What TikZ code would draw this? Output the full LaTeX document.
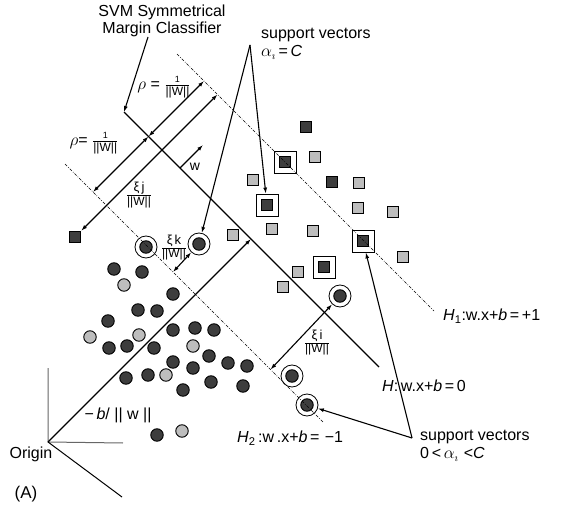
\documentclass[tikz,border=0pt]{standalone}
\usepackage{fontspec}
\setmainfont{Liberation Sans}
\usetikzlibrary{arrows.meta}
\definecolor{dkfill}{gray}{0.24}
\definecolor{ltfill}{gray}{0.74}
\definecolor{axisgray}{gray}{0.4}
\newcommand{\wfrac}[1]{$\frac{\hbox{#1}}{\hbox{\fontsize{12}{12}\selectfont ||W||}}$}
\begin{document}
\begin{tikzpicture}[x=1pt,y=-1pt,
  pt/.style={circle,draw=black,line width=0.9pt,minimum size=12.5pt,inner sep=0pt},
  dkc/.style={pt,fill=dkfill}, ltc/.style={pt,fill=ltfill},
  sq/.style={rectangle,draw=black,line width=0.9pt,minimum size=11.5pt,inner sep=0pt},
  dks/.style={sq,fill=dkfill}, lts/.style={sq,fill=ltfill},
  ringc/.style={circle,draw=black,line width=0.8pt,minimum size=22pt,inner sep=0pt},
  boxs/.style={rectangle,draw=black,line width=0.8pt,minimum size=22pt,inner sep=0pt},
  arr/.style={-{Latex[length=6pt,width=4pt]},line width=1.1pt},
  dbl/.style={{Latex[length=6pt,width=4pt]}-{Latex[length=6pt,width=4pt]},line width=1.1pt},
  hyp/.style={line width=1.2pt},
  hypd/.style={line width=0.6pt,dash pattern=on 3pt off 1.5pt on 0.7pt off 1.5pt},
  lbl/.style={font=\fontsize{16}{18}\selectfont, inner sep=0pt},
]
\useasboundingbox (0,0) rectangle (563,511);

% coordinates
\coordinate (Ha) at (124,112); \coordinate (Hb) at (379,367);
\coordinate (H1a) at (177,54); \coordinate (H1b) at (434,311);
\coordinate (H2a) at (65,164); \coordinate (H2b) at (324,423);
\coordinate (pA2) at (93,192); \coordinate (pAH) at (148.5,136.5); \coordinate (pA1) at (204,81);
\coordinate (pB1) at (217.5,94.5);
\coordinate (wA) at (180,168); \coordinate (wB) at (203,145);
\coordinate (org) at (48,442); \coordinate (axV) at (48,368);
\coordinate (axH) at (123,443); \coordinate (axD) at (122,497);
\coordinate (bH) at (251,239);
\coordinate (pK) at (173,272); \coordinate (pI) at (270.5,369.5);
\coordinate (apex1) at (250,45); \coordinate (apex2) at (412,438);
\coordinate (svmA) at (148,37);

% data points: circles
\foreach \x/\y [count=\i] in {114/269,142/272,173/294,138/310,157/311,108/321,173/330,195/328,214/330,109/348,127/346,154/348,209/356,228/363,247/366,173/362,193/368,148/375,126/378,183/390,211/382,243/386,157/435}
  \node[dkc] (dc\i) at (\x,\y) {};
\foreach \x/\y [count=\i] in {124/285,90/337,139/335,193/346,166/375,182/431}
  \node[ltc] (lc\i) at (\x,\y) {};
% ringed support vectors
\foreach \x/\y [count=\i] in {146/247,199/244,340/296,292/376,307/405}
  {\node[dkc] (rc\i) at (\x,\y) {}; \node[ringc] (r\i) at (\x,\y) {};}

% squares
\node[dks] (sqm) at (75,237) {};
\foreach \x/\y [count=\i] in {306/127,332/182}
  \node[dks] (ds\i) at (\x,\y) {};
\foreach \x/\y [count=\i] in {315/157,253/180,359/183,358/208,393/212,272/229,313/231,233/235,403/257,298/272,283/287}
  \node[lts] (ls\i) at (\x,\y) {};
\foreach \x/\y [count=\i] in {285/162,267/205,363/241,324/267}
  {\node[dks] (bs\i) at (\x,\y) {}; \node[boxs] (bx\i) at (\x,\y) {};}

% hyperplanes
\draw[hyp] (Ha) -- (Hb);
\draw[hypd] (H1a) -- (H1b);
\draw[hypd] (H2a) -- (H2b);

% axes
\draw[axisgray,line width=1pt] (axV) -- (org) -- (axH);
\draw[line width=1pt] (org) -- (axD);

% arrows
\draw[arr] (svmA) -- (Ha);
\draw[dbl] (pA2) -- (pAH);
\draw[dbl] (pAH) -- (pA1);
\draw[dbl] (sqm) -- (pB1);
\draw[arr] (wA) -- (wB);
\draw[arr] (org) -- (bH);
\draw[dbl] (pK) -- (r2);
\draw[dbl] (r3) -- (pI);
\draw[arr] (apex1) -- (r2);
\draw[arr] (apex1) -- (bx2);
\draw[arr] (apex2) -- (r5);
\draw[arr] (apex2) -- (bx3);

% labels
\node[lbl,align=center] (svm) at (162,21) {SVM Symmetrical\\[-1pt]Margin Classifier};
\node[lbl] (rho1) at (164,87) {$\rho$ = \wfrac{\fontsize{9}{9}\selectfont 1}};
\node[lbl] (rho2) at (94,143) {$\rho$= \wfrac{\fontsize{9}{9}\selectfont 1}};
\node[lbl] (xij) at (139,195) {\wfrac{\fontsize{13}{13}\selectfont ξ\,j}};
\node[lbl] (xik) at (174,248) {\wfrac{\fontsize{13}{13}\selectfont ξ\,k}};
\node[lbl] (xii) at (317,343) {\wfrac{\fontsize{13}{13}\selectfont ξ\,i}};
\node[lbl,font=\fontsize{14}{16}\selectfont] (wl) at (195,167) {w};
\node[lbl,anchor=north west,align=left] (sv1) at (261,28) {support vectors\\$\alpha_\imath$\,=\,\textit{C}};
\node[lbl,anchor=north west,align=left] (sv2) at (420,430) {support vectors\\0\,<\,$\alpha_\imath$\,\,<\textit{C}};
\node[lbl,anchor=west] (h1l) at (443,316) {\textit{H}\textsubscript{1}:w.x+\textit{b}\,=\,+1};
\node[lbl,anchor=west] (hl) at (382,386) {\textit{H}:\,w.x+\textit{b}\,=\,0};
\node[lbl,anchor=west] (h2l) at (237,438) {\textit{H}\textsubscript{2}\,:w\,.x+\textit{b}\,=\,\,−1};
\node[lbl] (bwl) at (118,415) {−\,\textit{b}/ || w ||};
\node[lbl] (orl) at (31,454) {Origin};
\node[lbl,font=\fontsize{17}{19}\selectfont] (al) at (26,494) {(A)};
\end{tikzpicture}
\end{document}
